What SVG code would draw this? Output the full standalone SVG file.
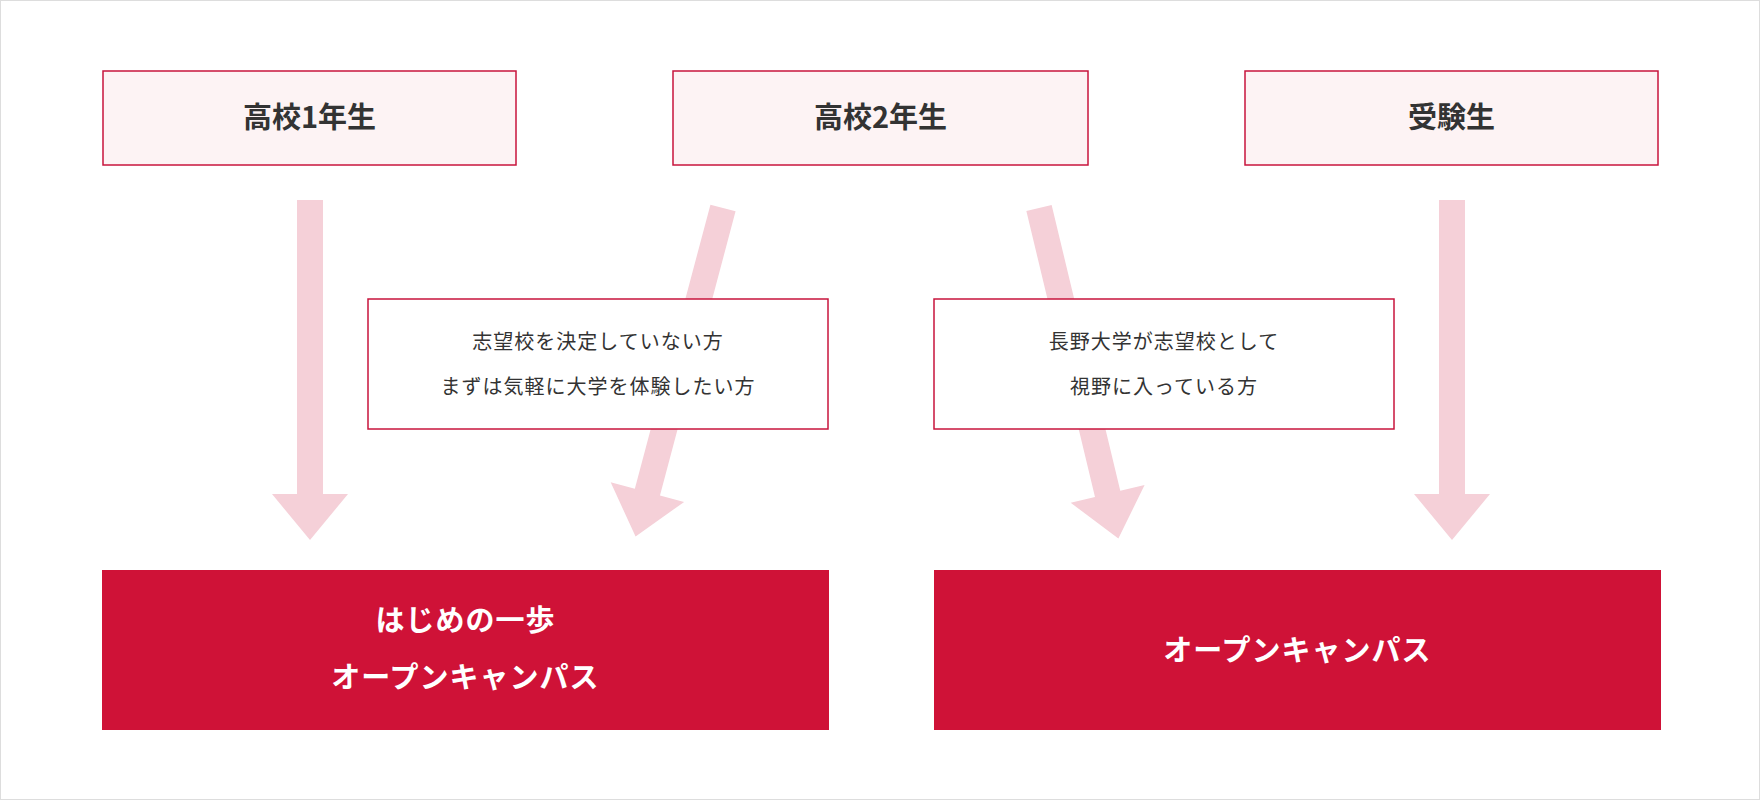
<svg xmlns="http://www.w3.org/2000/svg" xmlns:xlink="http://www.w3.org/1999/xlink" width="1760" height="800" viewBox="0 0 1760 800">
<style>
.top{fill:#fdf3f4;stroke:#c8143c;stroke-width:1.5}
.mid{fill:#fff;stroke:#c8143c;stroke-width:1.5}
.bot{fill:#cf1237}
text{font-family:"Noto Sans CJK JP","Noto Sans",sans-serif;text-anchor:middle}
.tt{font-size:29px;font-weight:bold;fill:#333}
.mt{font-size:20px;fill:#333;letter-spacing:1px}
.bt{font-size:29px;font-weight:bold;fill:#fff;letter-spacing:1px}
.arr{fill:#f5d0d8}
</style>
<defs><path id="a" d="M-13,0H13V294H38L0,340L-38,294H-13Z"/></defs>
<rect x="0.5" y="0.5" width="1759" height="799" fill="#fff" stroke="#ddd"/>
<g id="connectors" class="arr">
<use xlink:href="#a" transform="translate(310,200)"/>
<use xlink:href="#a" transform="translate(723,208) rotate(14.9)"/>
<use xlink:href="#a" transform="translate(1039,208) rotate(-13.5)"/>
<use xlink:href="#a" transform="translate(1452,200)"/>
</g>
<g id="n1"><rect class="top" x="103" y="71" width="413" height="94"/><text class="tt" x="309.5" y="128">高校1年生</text></g>
<g id="n2"><rect class="top" x="673" y="71" width="415" height="94"/><text class="tt" x="880.5" y="128">高校2年生</text></g>
<g id="n3"><rect class="top" x="1245" y="71" width="413" height="94"/><text class="tt" x="1451.5" y="128">受験生</text></g>
<g id="m1"><rect class="mid" x="368" y="299" width="460" height="130"/><text class="mt" x="598" y="349">志望校を決定していない方</text><text class="mt" x="598" y="394">まずは気軽に大学を体験したい方</text></g>
<g id="m2"><rect class="mid" x="934" y="299" width="460" height="130"/><text class="mt" x="1164" y="349">長野大学が志望校として</text><text class="mt" x="1164" y="394">視野に入っている方</text></g>
<g id="b1"><rect class="bot" x="102" y="570" width="727" height="160"/><text class="bt" x="465.5" y="631">はじめの一歩</text><text class="bt" x="465.5" y="688">オープンキャンパス</text></g>
<g id="b2"><rect class="bot" x="934" y="570" width="727" height="160"/><text class="bt" x="1297.5" y="661">オープンキャンパス</text></g>
</svg>
